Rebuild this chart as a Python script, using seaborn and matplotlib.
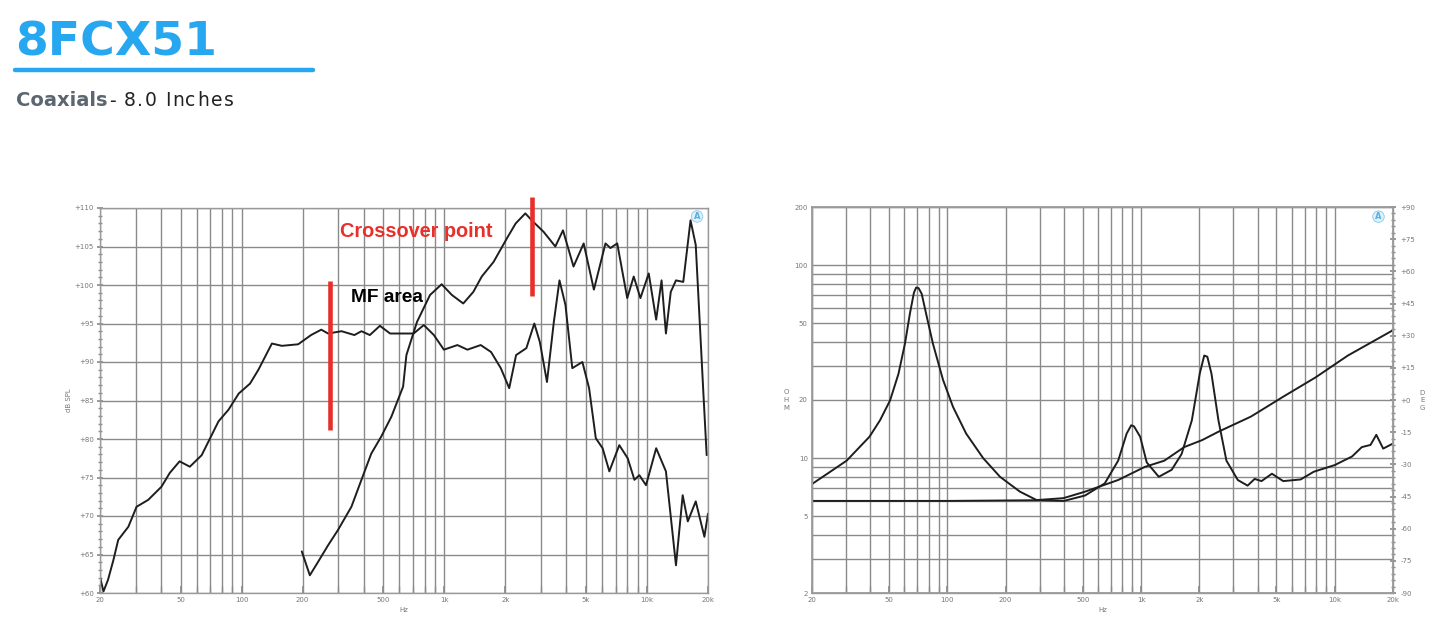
import numpy as np
import pandas as pd
import matplotlib
matplotlib.use("Agg")
import matplotlib.pyplot as plt
from matplotlib.ticker import FixedLocator, NullFormatter, LogLocator
import seaborn as sns

# ---------------- data ----------------
# Woofer SPL response (Hz, dB)
woofer_spl_f = [20, 20.8, 21.9, 23.3, 24.6, 27.6, 30.3, 34.6, 40.2, 44.2, 49.4, 55.5, 63.5,
                76.9, 86.1, 96.7, 110, 121, 141, 158, 190, 220, 247, 267, 311, 360, 390,
                429, 481, 540, 617, 706, 792, 888, 995, 1160, 1300, 1512, 1700, 1900,
                2090, 2260, 2540, 2780, 2960, 3210, 3470, 3700, 3960, 4280, 4800, 5180,
                5590, 6040, 6520, 7300, 8030, 8670, 9170, 9890, 11100, 12400, 13900,
                15000, 15900, 17400, 19200, 20000]
woofer_spl_db = [62.1, 60.2, 61.7, 64.3, 66.9, 68.6, 71.2, 72.1, 73.8, 75.6, 77.1, 76.4, 77.9,
                 82.3, 83.8, 85.9, 87.2, 89.0, 92.4, 92.1, 92.3, 93.5, 94.2, 93.7, 94.0,
                 93.5, 94.0, 93.5, 94.7, 93.7, 93.7, 93.7, 94.8, 93.5, 91.6, 92.2, 91.6,
                 92.2, 91.3, 89.2, 86.6, 90.9, 91.8, 95.0, 92.6, 87.4, 95.2, 100.6, 97.4,
                 89.2, 90.0, 86.6, 80.1, 78.8, 75.8, 79.2, 77.5, 74.7, 75.3, 74.0, 78.8,
                 75.8, 63.6, 72.7, 69.3, 71.9, 67.3, 70.3]

# Tweeter SPL response (Hz, dB)
tweeter_spl_f = [198, 217, 239, 267, 299, 348, 390, 436, 488, 548, 626, 650, 733, 850, 970,
                 1090, 1240, 1390, 1530, 1750, 2040, 2250, 2510, 2700, 3090, 3530, 3850,
                 4340, 4870, 5470, 6240, 6600, 7130, 7990, 8600, 9280, 10200, 11100,
                 11800, 12400, 13100, 13900, 15100, 16400, 17400, 19000, 19700]
tweeter_spl_db = [65.4, 62.3, 64.1, 66.2, 68.2, 71.2, 74.7, 78.1, 80.3, 82.9, 86.8, 90.9,
                  95.2, 98.7, 100.1, 98.7, 97.6, 99.1, 101.1, 103.0, 106.1, 108.0, 109.3,
                  108.4, 106.9, 105.0, 107.1, 102.4, 105.4, 99.4, 105.4, 104.8, 105.4,
                  98.3, 101.1, 98.3, 101.5, 95.5, 100.6, 93.7, 99.1, 100.6, 100.4, 108.4,
                  105.2, 85.7, 77.9]

# Woofer impedance (Hz, ohm)
woofer_z_f = [20, 24, 30.2, 39.6, 44.9, 50.6, 55.9, 60.4, 64.1, 67.2, 69, 71, 73.7, 78.3,
              84.2, 95, 107, 125, 153, 187, 237, 289, 397, 514, 762, 1045, 1320, 1670,
              2070, 2510, 3690, 5420, 7970, 11700, 20000]
woofer_z_ohm = [7.34, 8.3, 9.7, 12.9, 15.7, 19.9, 27.3, 39.2, 56.3, 72.0, 76.5, 76.0, 71.0,
                54.0, 39.2, 25.4, 18.4, 13.4, 10.0, 8.0, 6.7, 6.06, 6.2, 6.7, 7.7, 9.0,
                9.7, 11.4, 12.4, 13.7, 16.4, 20.8, 26.2, 34.0, 46.0]

# Tweeter impedance (Hz, ohm)
tweeter_z_f = [20, 100, 300, 400, 514, 650, 762, 843, 890, 920, 990, 1070, 1235, 1440,
               1620, 1830, 2010, 2120, 2200, 2310, 2510, 2760, 3160, 3550, 3860, 4190,
               4740, 5420, 6670, 7800, 10000, 12300, 13800, 15300, 16400, 17800, 20000]
tweeter_z_ohm = [6.0, 6.0, 6.05, 6.0, 6.4, 7.4, 9.7, 13.4, 14.8, 14.6, 12.9, 9.5, 8.0,
                 8.7, 10.5, 15.7, 27.4, 34.0, 33.5, 27.4, 15.7, 9.7, 7.7, 7.2, 7.8, 7.6,
                 8.3, 7.6, 7.75, 8.5, 9.2, 10.2, 11.4, 11.7, 13.2, 11.2, 11.9]

freq_ticks = [20, 50, 100, 200, 500, 1000, 2000, 5000, 10000, 20000]
freq_labels = ["20", "50", "100", "200", "500", "1k", "2k", "5k", "10k", "20k"]
spl_ticks = [60, 65, 70, 75, 80, 85, 90, 95, 100, 105, 110]
ohm_ticks = [2, 5, 10, 20, 50, 100, 200]
deg_ticks = [-90, -75, -60, -45, -30, -15, 0, 15, 30, 45, 60, 75, 90]

# Annotation markers (Hz, dB range)
mf_marker = (272, 81.2, 100.5)
xover_marker = (2700, 98.6, 111.4)

# ---------------- style ----------------
sns.set_theme(style="white")
plt.rcParams["font.family"] = ["DejaVu Sans"]

CURVE = "#1e1e1e"
GRID = "#8a8a8a"
TICKC = "#8c8c8c"
LABELC = "#777777"
RED = "#e8302a"
BLUE = "#27a7f0"

fig = plt.figure(figsize=(14.52, 6.35), dpi=100)

ax1 = fig.add_axes([100 / 1452, 42 / 635, 608 / 1452, 385 / 635])
ax2 = fig.add_axes([812 / 1452, 42 / 635, 581 / 1452, 386 / 635])


def style_freq_axis(ax):
    ax.set_xscale("log")
    ax.set_xlim(20, 20000)
    ax.xaxis.set_major_locator(FixedLocator(freq_ticks))
    ax.set_xticklabels(freq_labels)
    ax.xaxis.set_minor_locator(LogLocator(base=10, subs=np.arange(2, 10)))
    ax.xaxis.set_minor_formatter(NullFormatter())
    ax.grid(True, which="both", axis="x", color=GRID, lw=1.0)
    for s in ax.spines.values():
        s.set_color("#9a9a9a")
        s.set_linewidth(1.0)
    ax.tick_params(axis="x", which="both", bottom=True, direction="in", length=5,
                   color=TICKC, labelsize=5, labelcolor=LABELC, pad=3)
    ax.set_facecolor("white")


# ---- left: SPL ----
style_freq_axis(ax1)
ax1.set_ylim(60, 110)
ax1.set_yticks(spl_ticks)
ax1.set_yticklabels([f"+{v}" for v in spl_ticks])
ax1.yaxis.set_minor_locator(FixedLocator(np.arange(60, 111, 1)))
ax1.grid(True, which="major", axis="y", color=GRID, lw=1.0)

spl_w = pd.DataFrame({"f": woofer_spl_f, "db": woofer_spl_db})
spl_t = pd.DataFrame({"f": tweeter_spl_f, "db": tweeter_spl_db})
sns.lineplot(data=spl_w, x="f", y="db", ax=ax1, color=CURVE, lw=1.4, sort=False,
             estimator=None)
sns.lineplot(data=spl_t, x="f", y="db", ax=ax1, color=CURVE, lw=1.4, sort=False,
             estimator=None)
ax1.tick_params(axis="y", which="major", left=True, direction="inout", length=5,
                color=TICKC, labelsize=5, labelcolor=LABELC, pad=2)
ax1.tick_params(axis="y", which="minor", left=True, direction="inout", length=3,
                color=TICKC)
ax1.set_xlabel("Hz", fontsize=5, color=LABELC, labelpad=3)
ax1.set_ylabel("dB SPL", fontsize=5, color=LABELC, labelpad=2)

for f, lo, hi in (mf_marker, xover_marker):
    ax1.plot([f, f], [lo, hi], color=RED, lw=3.3, solid_capstyle="butt", clip_on=False,
             zorder=5)

ax1.text(0.394, 0.94, "Crossover point", transform=ax1.transAxes, color=RED,
         fontsize=14.3, fontweight="bold", family="Liberation Sans", va="center",
         ha="left")
ax1.text(0.413, 0.767, "MF area", transform=ax1.transAxes, color="black",
         fontsize=13.8, fontweight="bold", family="Liberation Sans", va="center",
         ha="left")
ax1.text(0.982, 0.978, "A", transform=ax1.transAxes, color="#5ab0dc", fontsize=6,
         fontweight="bold", ha="center", va="center", zorder=6,
         bbox=dict(boxstyle="circle,pad=0.15", fc="#dff0fa", ec="#8cc8e8", lw=0.6))

# ---- right: impedance ----
style_freq_axis(ax2)
ax2.set_yscale("log")
ax2.set_ylim(2, 200)
ax2.yaxis.set_major_locator(FixedLocator(ohm_ticks))
ax2.set_yticklabels([str(v) for v in ohm_ticks])
ax2.yaxis.set_minor_locator(LogLocator(base=10, subs=np.arange(2, 10)))
ax2.yaxis.set_minor_formatter(NullFormatter())
ax2.grid(True, which="both", axis="y", color=GRID, lw=1.0)

z_w = pd.DataFrame({"f": woofer_z_f, "ohm": woofer_z_ohm})
z_t = pd.DataFrame({"f": tweeter_z_f, "ohm": tweeter_z_ohm})
sns.lineplot(data=z_w, x="f", y="ohm", ax=ax2, color=CURVE, lw=1.4, sort=False,
             estimator=None)
sns.lineplot(data=z_t, x="f", y="ohm", ax=ax2, color=CURVE, lw=1.4, sort=False,
             estimator=None)
ax2.set_xlabel("Hz", fontsize=5, color=LABELC, labelpad=3)
ax2.set_ylabel("O\nH\nM", fontsize=5, color=LABELC, rotation=0, va="center",
               labelpad=6, linespacing=1.3)
ax2.text(0.975, 0.975, "A", transform=ax2.transAxes, color="#5ab0dc", fontsize=6,
         fontweight="bold", ha="center", va="center", zorder=6,
         bbox=dict(boxstyle="circle,pad=0.15", fc="#dff0fa", ec="#8cc8e8", lw=0.6))

ax3 = ax2.twinx()
ax3.set_ylim(-90, 90)
ax3.set_yticks(deg_ticks)
ax3.set_yticklabels([f"+{v}" if v >= 0 else f"{v}" for v in deg_ticks])
ax3.yaxis.set_minor_locator(FixedLocator(np.arange(-90, 91, 3)))
ax3.tick_params(axis="y", which="major", left=False, right=True, direction="inout",
                length=5, color=TICKC, labelsize=5, labelcolor=LABELC, pad=3)
ax3.tick_params(axis="y", which="minor", left=False, right=True, direction="inout",
                length=3, color=TICKC)
ax3.set_ylabel("D\nE\nG", fontsize=5, color=LABELC, rotation=0, va="center",
               labelpad=5, linespacing=1.3)
for s in ax3.spines.values():
    s.set_color("#9a9a9a")
ax3.grid(False)

ax2.tick_params(axis="y", which="both", left=False, right=False, length=0,
                labelsize=5, labelcolor=LABELC, pad=3)

# ---------------- header ----------------
fig.text(15 / 1452, 1 - 43 / 635, "8FCX51", color=BLUE, fontsize=34, fontweight="bold",
         va="center", ha="left")
fig.add_artist(plt.Line2D([15 / 1452, 313 / 1452], [1 - 70 / 635, 1 - 70 / 635],
                          color=BLUE, lw=3.2, transform=fig.transFigure))

fig.text(16 / 1452, 1 - 101 / 635, "Coaxials", color="#5b6670", fontsize=14,
         fontweight="bold", va="center", ha="left")
# subtitle with slight letter spacing
renderer = fig.canvas.get_renderer()
x_px = 109.0
for ch in "- 8.0 Inches":
    t = fig.text(x_px / 1452, 1 - 101 / 635, ch, color="#222222", fontsize=13.5,
                 va="center", ha="left")
    w = t.get_window_extent(renderer=renderer).width if ch != " " else 5.0
    x_px += w + 1.6

fig.savefig("out.png", dpi=100, facecolor="white")
